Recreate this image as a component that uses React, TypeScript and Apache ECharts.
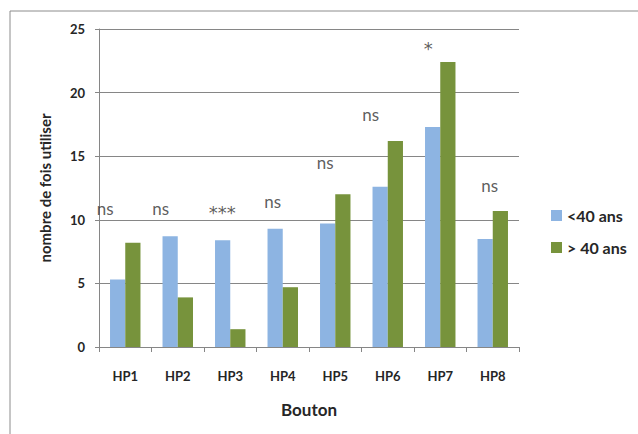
import React, { useEffect, useRef } from "react";
import * as echarts from "echarts";

const categories = ["HP1", "HP2", "HP3", "HP4", "HP5", "HP6", "HP7", "HP8"];
const under40 = [5.3, 8.7, 8.4, 9.3, 9.7, 12.6, 17.3, 8.5];
const over40 = [8.2, 3.9, 1.4, 4.7, 12.0, 16.2, 22.4, 10.7];
const significance = ["ns", "ns", "***", "ns", "ns", "ns", "*", "ns"];
const significanceY = [10.9, 10.9, 10.8, 11.4, 14.5, 18.3, 23.7, 12.7];
const yTicks = { min: 0, max: 25, interval: 5 };

const labelShift = [-20, -17, -8, -10, -10, -17, -12, -3];

export default function App() {
  const ref = useRef<HTMLDivElement>(null);
  useEffect(() => {
    if (!ref.current) return;
    const chart = echarts.init(ref.current, null, { renderer: "svg" });
    const font = "Lato, 'Open Sans', sans-serif";
    chart.setOption({
      animation: false,
      backgroundColor: "#ffffff",
      textStyle: { fontFamily: font },
      graphic: [
        {
          type: "rect",
          shape: { x: 10, y: 11, width: 700, height: 500 },
          style: { fill: "none", stroke: "#8c8c8c", lineWidth: 1 },
          silent: true,
        },
      ],
      grid: { left: 99, right: 119, top: 29, bottom: 87, containLabel: false },
      legend: {
        orient: "vertical",
        left: 546,
        top: 202,
        itemWidth: 11,
        itemHeight: 11,
        itemGap: 15,
        icon: "rect",
        data: ["<40 ans", "> 40 ans"],
        textStyle: { fontFamily: font, fontWeight: "bold", fontSize: 16, lineHeight: 17, color: "#262626" },
      },
      xAxis: {
        type: "category",
        data: categories,
        name: "Bouton",
        nameLocation: "middle",
        nameGap: 54,
        nameTextStyle: { fontFamily: font, fontWeight: "bold", fontSize: 17, color: "#262626" },
        axisLine: { lineStyle: { color: "#868686", width: 1 } },
        axisTick: { show: true, length: 5, lineStyle: { color: "#868686" } },
        axisLabel: { fontFamily: font, fontWeight: "bold", fontSize: 13, color: "#262626", margin: 22 },
      },
      yAxis: {
        type: "value",
        min: yTicks.min,
        max: yTicks.max,
        interval: yTicks.interval,
        name: "nombre de fois utiliser",
        nameLocation: "middle",
        nameGap: 47,
        nameTextStyle: { fontFamily: font, fontWeight: "bold", fontSize: 15, color: "#262626" },
        axisLine: { show: true, lineStyle: { color: "#868686", width: 1 } },
        axisTick: { show: true, length: 4, lineStyle: { color: "#868686" } },
        splitLine: { show: true, lineStyle: { color: "#868686", width: 1 } },
        axisLabel: { fontFamily: font, fontWeight: "bold", fontSize: 13, color: "#262626", margin: 14 },
      },
      series: [
        {
          name: "<40 ans",
          type: "bar",
          data: under40,
          barGap: "0%",
          barCategoryGap: "42%",
          itemStyle: { color: "#8DB4E2" },
        },
        {
          name: "> 40 ans",
          type: "bar",
          data: over40,
          itemStyle: { color: "#77933C" },
        },
        {
          name: "sig",
          type: "scatter",
          silent: true,
          symbolSize: 0,
          data: significanceY.map((v, i) => {
            const isStar = significance[i].startsWith("*");
            return {
              value: [categories[i], v],
              label: isStar
                ? { offset: [labelShift[i], 3], fontSize: 18, fontFamily: "'DejaVu Sans', sans-serif" }
                : { offset: [labelShift[i], 0] },
            };
          }),
          label: {
            show: true,
            position: "inside",
            formatter: (p: any) => significance[p.dataIndex],
            fontFamily: font,
            fontSize: 17,
            color: "#333333",
          },
        },
      ],
    });
    return () => chart.dispose();
  }, []);
  return (
    <div
      ref={ref}
      style={{ position: "fixed", left: 0, top: 0, width: 638, height: 434 }}
    />
  );
}
